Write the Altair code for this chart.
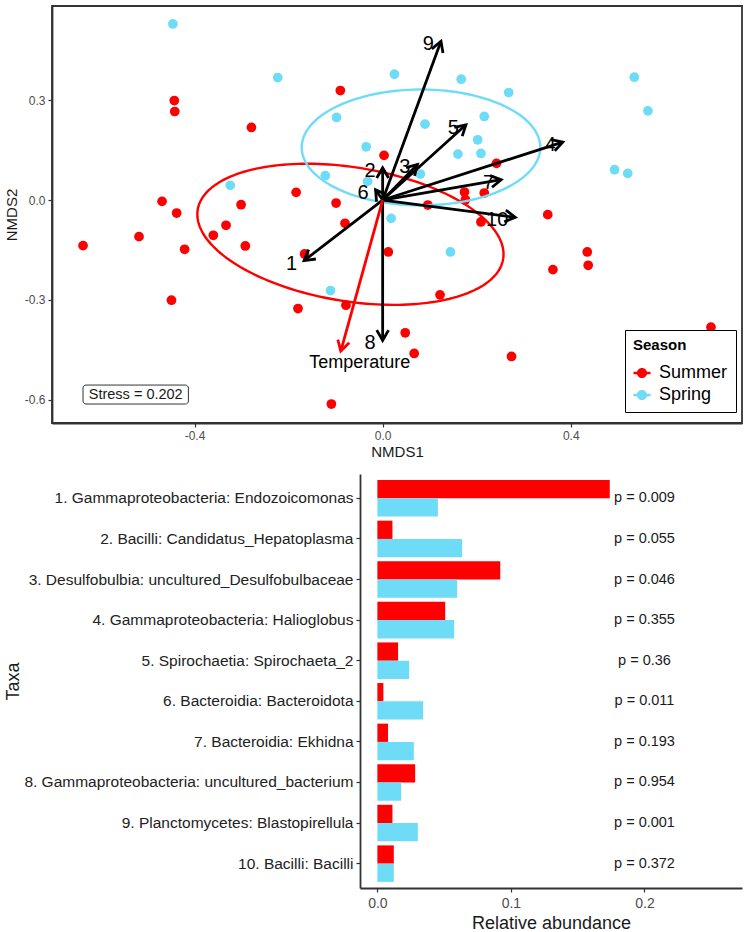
import altair as alt
import numpy as np
import pandas as pd

RED = "#FF0000"
BLUE = "#6EDCF7"
FONT = "Liberation Sans"

# ---------------- NMDS site scores ----------------
summer_x = [-0.090, -0.443, -0.442, -0.279, 0.003, -0.184, -0.099, -0.469, -0.438, -0.301,
            -0.637, -0.518, -0.421, -0.333, -0.360, -0.292, -0.080, -0.166, -0.449, -0.180,
            -0.078, -0.109, 0.242, 0.174, 0.216, 0.176, 0.096, 0.209, 0.351, 0.012,
            0.435, 0.437, 0.362, 0.122, 0.698, 0.048, 0.067, 0.274]
summer_y = [0.329, 0.299, 0.266, 0.218, 0.134, 0.023, -0.009, -0.004, -0.039, -0.014,
            -0.137, -0.110, -0.148, -0.076, -0.106, -0.138, -0.070, -0.162, -0.301, -0.326,
            -0.316, -0.613, 0.110, 0.024, 0.021, 0.001, -0.015, -0.066, -0.044, -0.156,
            -0.156, -0.196, -0.209, -0.285, -0.382, -0.399, -0.461, -0.470]
spring_x = [-0.446, -0.223, -0.098, -0.035, -0.122, -0.324, -0.032, 0.025, 0.167, 0.268,
            0.535, 0.564, 0.090, 0.216, 0.202, 0.160, 0.209, 0.080, 0.493, 0.521,
            0.018, 0.144, -0.111]
spring_y = [0.529, 0.368, 0.248, 0.160, 0.073, 0.044, 0.056, 0.378, 0.363, 0.323,
            0.369, 0.268, 0.228, 0.251, 0.181, 0.138, 0.140, 0.078, 0.091, 0.080,
            -0.055, -0.156, -0.272]

# ---------------- fitted vectors ----------------
vec_labels = ["1", "2", "3", "4", "5", "6", "7", "8", "9", "10"]
vec_x = [-0.167, 0.000, 0.074, 0.383, 0.177, -0.015, 0.252, 0.000, 0.124, 0.282]
vec_y = [-0.182, 0.097, 0.107, 0.174, 0.226, 0.031, 0.061, -0.422, 0.477, -0.052]
temp_label = "Temperature"
temp_x = -0.089
temp_y = -0.454

# ---------------- season ellipses: centre, half-extent per axis, correlation ----------------
ell_season = ["Summer", "Spring"]
ell_cx = [-0.0685, 0.0815]
ell_cy = [-0.103, 0.158]
ell_hx = [0.3255, 0.2536]
ell_hy = [0.212, 0.174]
ell_r = [-0.283, 0.0]

stress_label = "Stress = 0.202"
stress_box_x = [-0.637, -0.413]
stress_box_y = [-0.613, -0.556]

# ---------------- relative abundance of the ten taxa ----------------
taxa = [
    "1. Gammaproteobacteria: Endozoicomonas",
    "2. Bacilli: Candidatus_Hepatoplasma",
    "3. Desulfobulbia: uncultured_Desulfobulbaceae",
    "4. Gammaproteobacteria: Halioglobus",
    "5. Spirochaetia: Spirochaeta_2",
    "6. Bacteroidia: Bacteroidota",
    "7. Bacteroidia: Ekhidna",
    "8. Gammaproteobacteria: uncultured_bacterium",
    "9. Planctomycetes: Blastopirellula",
    "10. Bacilli: Bacilli",
]
summer_abund = [0.174, 0.0113, 0.092, 0.0508, 0.0155, 0.0045, 0.008, 0.0283, 0.0113, 0.0123]
spring_abund = [0.0453, 0.0635, 0.0598, 0.0575, 0.0238, 0.0343, 0.0273, 0.0178, 0.0303, 0.0123]
p_values = ["0.009", "0.055", "0.046", "0.355", "0.36", "0.011", "0.193", "0.954", "0.001", "0.372"]

# ---------------- ordination panel ----------------
X_DOM = [-0.703, 0.764]
Y_DOM = [-0.670, 0.583]
W_TOP, H_TOP = 690, 417

season_scale = alt.Scale(domain=["Summer", "Spring"], range=[RED, BLUE])
xs = alt.Scale(domain=X_DOM, nice=False, zero=False)
ys = alt.Scale(domain=Y_DOM, nice=False, zero=False)
minus_fix = "replace(format(datum.value, '.1f'), '\u2212', '-')"
x_axis = alt.Axis(title="NMDS1", values=[-0.4, 0.0, 0.4], labelExpr=minus_fix,
                  labelFontSize=12, titleFontSize=15, labelPadding=3, titlePadding=3)
y_axis = alt.Axis(title="NMDS2", values=[-0.6, -0.3, 0.0, 0.3], labelExpr=minus_fix,
                  labelFontSize=12, titleFontSize=15, labelPadding=3, titlePadding=5)


def X(field):
    return alt.X(field, type="quantitative", scale=xs, axis=x_axis)


def Y(field):
    return alt.Y(field, type="quantitative", scale=ys, axis=y_axis)


# legend key: a dot with a short line on either side of it
legend_symbol = ("M -1 -0.14 L -0.58 -0.14 L -0.58 0.14 L -1 0.14 Z "
                 "M 0.58 -0.14 L 1 -0.14 L 1 0.14 L 0.58 0.14 Z "
                 "M 0.6 0 A 0.6 0.6 0 1 1 -0.6 0 A 0.6 0.6 0 1 1 0.6 0 Z")
season_legend = alt.Legend(
    title="Season", orient="none", legendX=573, legendY=324,
    strokeColor="black", fillColor="white", padding=8,
    titleFontSize=15, titleFontWeight="bold", titleColor="black", titlePadding=11,
    labelFontSize=18, labelColor="black", labelOffset=8, rowPadding=4,
    symbolType=legend_symbol, symbolSize=289, symbolOffset=0,
    symbolStrokeWidth=0, symbolOpacity=1,
)

sites = pd.DataFrame({
    "x": summer_x + spring_x,
    "y": summer_y + spring_y,
    "Season": ["Summer"] * len(summer_x) + ["Spring"] * len(spring_x),
})

ell_rows = []
t = np.linspace(0, 2 * np.pi, 181)
for s, cx, cy, hx, hy, r in zip(ell_season, ell_cx, ell_cy, ell_hx, ell_hy, ell_r):
    ex = cx + hx * np.cos(t)
    ey = cy + hy * (r * np.cos(t) + np.sqrt(1 - r * r) * np.sin(t))
    for i, (a, b) in enumerate(zip(ex, ey)):
        ell_rows.append({"Season": s, "i": i, "x": a, "y": b})
ellipses = pd.DataFrame(ell_rows)

kx = W_TOP / (X_DOM[1] - X_DOM[0])
ky = H_TOP / (Y_DOM[1] - Y_DOM[0])

vecs = pd.DataFrame({"label": vec_labels, "x": vec_x, "y": vec_y})
vecs["x0"] = 0.0
vecs["y0"] = 0.0
vecs["ang"] = (np.degrees(np.arctan2(vecs["x"] * kx, vecs["y"] * ky)) + 360) % 360

temp = pd.DataFrame({"label": [temp_label], "x": [temp_x], "y": [temp_y]})
temp["x0"] = 0.0
temp["y0"] = 0.0
temp["ang"] = (np.degrees(np.arctan2(temp["x"] * kx, temp["y"] * ky)) + 360) % 360

chevron = "M -0.5 0.87 L 0 0 L 0.5 0.87"

points = alt.Chart(sites).mark_circle(size=95, opacity=1).encode(
    x=X("x"), y=Y("y"),
    color=alt.Color("Season:N", scale=season_scale, legend=season_legend))

ell_lines = alt.Chart(ellipses).mark_line(strokeWidth=2.4).encode(
    x=X("x"), y=Y("y"),
    stroke=alt.Stroke("Season:N", scale=season_scale, legend=None),
    order="i:Q")


def arrows(df, colour):
    shaft = alt.Chart(df).mark_rule(strokeWidth=2.8, color=colour).encode(
        x=X("x0"), y=Y("y0"), x2="x", y2="y")
    head = alt.Chart(df).mark_point(shape=chevron, filled=False, strokeWidth=2.8,
                                    size=560, color=colour, opacity=1,
                                    strokeJoin="miter").encode(
        x=X("x"), y=Y("y"), angle=alt.Angle("ang:Q", scale=None))
    return shaft, head


vec_shaft, vec_head = arrows(vecs, "black")
temp_shaft, temp_head = arrows(temp, RED)

vec_text = alt.Chart(vecs).mark_text(align="right", baseline="middle", dx=-7, dy=3,
                                     fontSize=20, color="black").encode(
    x=X("x"), y=Y("y"), text="label:N")
temp_text = alt.Chart(temp).mark_text(align="center", baseline="middle", dx=19, dy=12,
                                      fontSize=18, color="black").encode(
    x=X("x"), y=Y("y"), text="label:N")

stress = pd.DataFrame({
    "x1": [stress_box_x[0]], "x2": [stress_box_x[1]],
    "y1": [stress_box_y[0]], "y2": [stress_box_y[1]],
    "tx": [sum(stress_box_x) / 2], "ty": [sum(stress_box_y) / 2],
    "label": [stress_label],
})
stress_box = alt.Chart(stress).mark_rect(cornerRadius=3, fill="white", stroke="#333333",
                                         strokeWidth=1).encode(
    x=X("x1"), x2="x2", y=Y("y1"), y2="y2")
stress_text = alt.Chart(stress).mark_text(fontSize=14.5, color="#1a1a1a").encode(
    x=X("tx"), y=Y("ty"), text="label:N")

top = alt.layer(
    points, ell_lines, vec_shaft, temp_shaft, vec_head, temp_head,
    vec_text, temp_text, stress_box, stress_text,
).properties(
    width=W_TOP, height=H_TOP,
    view=alt.ViewBackground(stroke="#333333", strokeWidth=1.8),
)

# ---------------- abundance panel ----------------
# The panel shares the ordination's left edge; its bars occupy the right part of
# the row (pixels LEFT_GAP..W_TOP) and the taxon axis sits at LEFT_GAP.
LEFT_GAP = 308
H_BOT = 414

abund = pd.DataFrame({
    "Taxon": taxa * 2,
    "Season": ["Summer"] * len(taxa) + ["Spring"] * len(taxa),
    "value": summer_abund + spring_abund,
})
plabels = pd.DataFrame({"Taxon": taxa, "label": ["p = " + p for p in p_values]})

taxa_y = alt.Y("Taxon:N", sort=taxa,
               scale=alt.Scale(paddingInner=0.1, paddingOuter=0.15),
               axis=alt.Axis(title="Taxa", labelFontSize=15.5, labelLimit=500,
                             labelColor="#222222", titleFontSize=18,
                             labelPadding=3, offset=-LEFT_GAP,
                             titleX=-LEFT_GAP - 39, titleBaseline="middle",
                             titleAngle=270))
abund_x_scale = alt.Scale(domain=[-0.013, 0.273], nice=False, zero=False,
                          range=[LEFT_GAP, W_TOP])
abund_x_axis = alt.Axis(title="Relative abundance", values=[0.0, 0.1, 0.2], format=".1f",
                        labelFontSize=14, titleFontSize=18, labelPadding=4, titlePadding=4)

bars = alt.Chart(abund).mark_bar().encode(
    y=taxa_y,
    x=alt.X("value:Q", scale=abund_x_scale, axis=abund_x_axis, stack=None),
    yOffset=alt.YOffset("Season:N", sort=["Summer", "Spring"],
                        scale=alt.Scale(paddingInner=0, paddingOuter=0)),
    color=alt.Color("Season:N", scale=season_scale, legend=None),
)
ptext = alt.Chart(plabels).mark_text(fontSize=14.5, color="#1a1a1a",
                                     align="center", baseline="middle").encode(
    y=taxa_y,
    x=alt.datum(0.2, scale=abund_x_scale, axis=abund_x_axis),
    text="label:N",
)

bottom = alt.layer(bars, ptext).properties(width=W_TOP, height=H_BOT)

chart = alt.concat(top, bottom, columns=1, spacing=14).resolve_scale(
    color="independent"
).resolve_legend(color="independent").properties(
    padding={"left": 3, "top": 5, "right": 5, "bottom": 2}
).configure(
    font=FONT, background="white"
).configure_view(stroke=None).configure_axis(
    grid=False, domainColor="#333333", domainWidth=1.8, tickColor="#333333",
    tickSize=4, tickWidth=1.2, labelColor="#4d4d4d", titleColor="#1a1a1a",
    titleFontWeight="normal", labelFont=FONT, titleFont=FONT,
)

chart.save("out.html", embed_options={"renderer": "svg", "actions": False})
